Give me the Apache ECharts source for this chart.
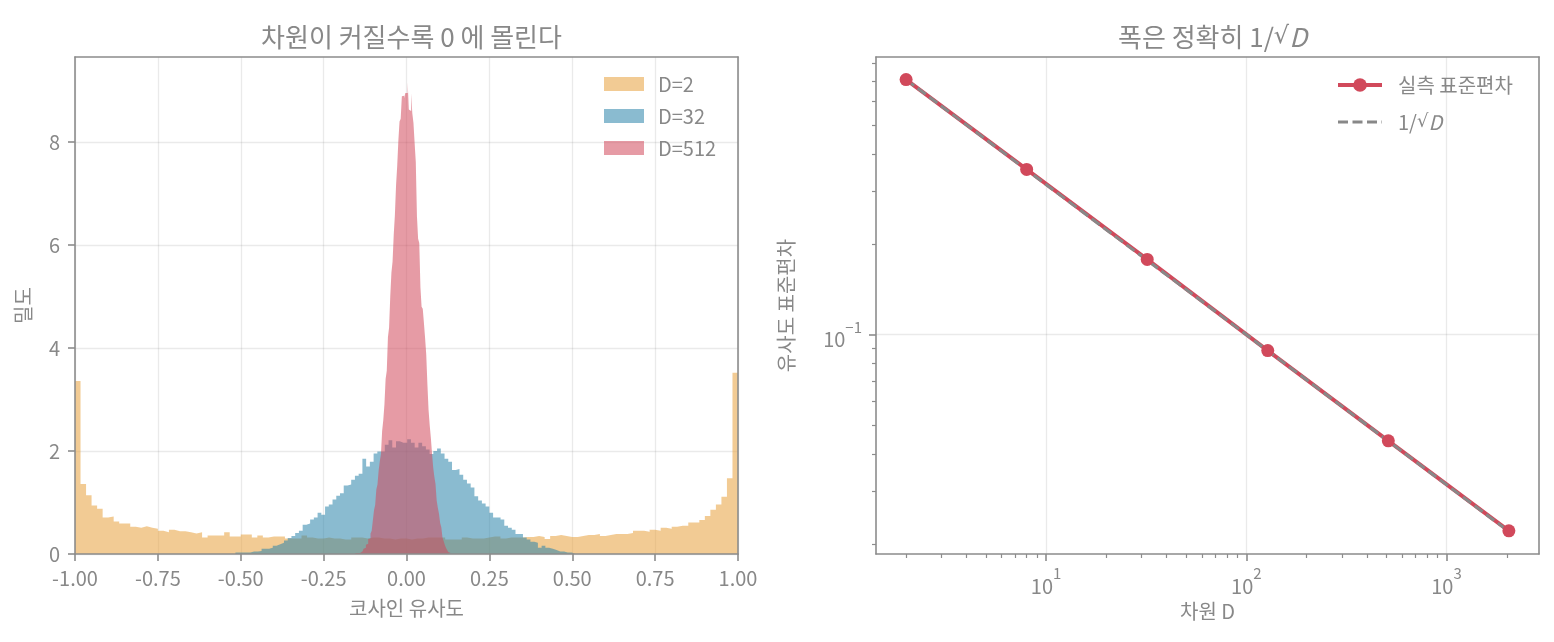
<!DOCTYPE html>
<html>
<head>
<meta charset="utf-8">
<script src="https://cdn.jsdelivr.net/npm/echarts@6/dist/echarts.min.js"></script>
<style>
  html, body { margin: 0; padding: 0; background: #fff; }
  #chart { width: 1554px; height: 642px; }
</style>
</head>
<body>
<div id="chart"></div>
<script>
// histogram densities (bin ranges + heights)
const d2Range = [-1, 1];
const d2Density = [
  3.36, 1.36, 1.14, 0.94, 0.88, 0.71, 0.73, 0.63, 0.59, 0.59,
  0.53, 0.51, 0.54, 0.51, 0.49, 0.45, 0.42, 0.47, 0.44, 0.44,
  0.42, 0.40, 0.42, 0.32, 0.36, 0.36, 0.36, 0.42, 0.34, 0.34,
  0.38, 0.38, 0.32, 0.36, 0.32, 0.34, 0.34, 0.34, 0.30, 0.30,
  0.30, 0.36, 0.32, 0.30, 0.30, 0.32, 0.30, 0.30, 0.28, 0.28,
  0.32, 0.32, 0.30, 0.32, 0.32, 0.30, 0.30, 0.28, 0.30, 0.30,
  0.28, 0.30, 0.30, 0.32, 0.32, 0.32, 0.32, 0.28, 0.28, 0.28,
  0.32, 0.30, 0.30, 0.30, 0.32, 0.34, 0.34, 0.30, 0.32, 0.32,
  0.32, 0.33, 0.33, 0.35, 0.33, 0.29, 0.35, 0.37, 0.35, 0.33,
  0.33, 0.35, 0.37, 0.37, 0.39, 0.35, 0.37, 0.39, 0.39, 0.39,
  0.41, 0.45, 0.45, 0.43, 0.47, 0.45, 0.51, 0.49, 0.53, 0.55,
  0.55, 0.61, 0.61, 0.66, 0.74, 0.86, 0.96, 1.11, 1.47, 3.52
];

const d32Range = [-0.516, 0.509];
const d32Density = [
  0.03, 0.03, 0.03, 0.03, 0.05, 0.05, 0.06, 0.10, 0.10, 0.12,
  0.16, 0.19, 0.22, 0.26, 0.31, 0.35, 0.41, 0.45, 0.57, 0.59,
  0.67, 0.71, 0.80, 0.76, 0.92, 0.96, 1.06, 1.13, 1.18, 1.33,
  1.35, 1.44, 1.52, 1.56, 1.85, 1.70, 1.79, 1.95, 1.99, 1.99,
  2.12, 2.21, 2.07, 2.19, 2.16, 2.16, 2.23, 2.16, 2.07, 2.16,
  2.09, 2.03, 1.94, 2.00, 2.05, 1.95, 1.85, 1.79, 1.63, 1.65,
  1.54, 1.44, 1.37, 1.29, 1.12, 1.04, 0.98, 0.92, 0.80, 0.71,
  0.71, 0.67, 0.55, 0.51, 0.47, 0.39, 0.39, 0.32, 0.28, 0.24,
  0.22, 0.12, 0.16, 0.12, 0.10, 0.08, 0.05, 0.05, 0.03, 0.03,
  0.01
];

const d512Range = [-0.154, 0.133];
const d512Density = [
  0.02, 0.02, 0.02, 0.02, 0.03, 0.05, 0.06, 0.10, 0.12, 0.18,
  0.20, 0.29, 0.30, 0.40, 0.45, 0.65, 0.85, 0.95, 1.25, 1.35,
  1.62, 1.80, 1.94, 2.39, 2.60, 2.91, 3.40, 3.56, 4.21, 4.40,
  5.00, 5.46, 5.68, 6.20, 6.58, 7.16, 7.54, 8.03, 8.40, 8.45,
  8.89, 8.90, 8.85, 8.95, 8.95, 9.16, 8.63, 8.60, 8.94, 8.56,
  8.37, 7.98, 7.61, 6.56, 6.12, 6.04, 5.18, 4.80, 4.76, 4.49,
  4.20, 3.88, 3.30, 2.80, 2.50, 2.25, 1.95, 1.68, 1.50, 1.36,
  1.04, 0.90, 0.78, 0.60, 0.52, 0.32, 0.25, 0.18, 0.12, 0.08,
  0.04, 0.02
];

// right panel
const dims = [2, 8, 32, 128, 512, 2048];
const measuredStd = [0.707, 0.355, 0.178, 0.0885, 0.0443, 0.0222];
const theoryStd = [0.7071, 0.3536, 0.1768, 0.0884, 0.0442, 0.0221];

// ticks
const densityTicks = [0, 2, 4, 6, 8];
const dimTicks = [10, 100, 1000];
const dimMinorTicks = [2, 3, 4, 5, 6, 7, 8, 9, 20, 30, 40, 50, 60, 70, 80, 90,
  200, 300, 400, 500, 600, 700, 800, 900, 2000];
const stdTicks = [0.1];
const stdMinorTicks = [0.02, 0.03, 0.04, 0.05, 0.06, 0.07, 0.08, 0.09,
  0.2, 0.3, 0.4, 0.5, 0.6, 0.7, 0.8];

const FONT = '"Noto Sans CJK KR", "Noto Sans", sans-serif';
const TEXT = '#888888';
const SPINE = '#8c8c8c';
const GRIDLINE = 'rgba(128,128,128,0.17)';
const ORANGE = 'rgba(231,160,60,0.55)';
const BLUE = 'rgba(42,131,170,0.55)';
const PINK = 'rgba(209,73,91,0.55)';
const RED = '#d1495b';
const GRAY = '#888888';

function stepData(range, dens) {
  const n = dens.length;
  const w = (range[1] - range[0]) / n;
  const pts = dens.map((h, i) => [range[0] + i * w, h]);
  pts.push([range[1], dens[n - 1]]);
  return pts;
}

function histSeries(name, range, dens, color) {
  return {
    name: name,
    type: 'line',
    xAxisIndex: 0,
    yAxisIndex: 0,
    step: 'end',
    data: stepData(range, dens),
    symbol: 'none',
    showSymbol: false,
    color: color,
    lineStyle: { width: 0, opacity: 0 },
    areaStyle: { color: color, opacity: 1 },
    silent: true
  };
}

function powLabel(v) {
  const e = Math.round(Math.log10(v));
  return '{b|10}{s|' + (e < 0 ? '\u2212' : '') + Math.abs(e) + '}';
}

const powRich = {
  b: { fontSize: 20, color: TEXT, fontFamily: FONT, lineHeight: 30, verticalAlign: 'bottom' },
  s: { fontSize: 15, color: TEXT, fontFamily: FONT, lineHeight: 16, verticalAlign: 'top' }
};

const axisLine = { show: true, onZero: false, lineStyle: { color: SPINE, width: 1.6 } };
const majorTick = { show: true, length: 7, lineStyle: { color: SPINE, width: 1.6 } };
const nameStyle = { color: TEXT, fontSize: 20, fontFamily: FONT };

const chart = echarts.init(document.getElementById('chart'));

chart.setOption({
  animation: false,
  backgroundColor: '#ffffff',
  textStyle: { fontFamily: FONT },
  title: [
    {
      text: '차원이 커질수록 0 에 몰린다',
      left: 406.5, top: 19, textAlign: 'center',
      textStyle: { fontSize: 26, fontWeight: 'normal', color: TEXT, fontFamily: FONT }
    },
    {
      text: '폭은 정확히 {n|1/}{r|√}{d|D}',
      left: 1207.5, top: 19, textAlign: 'center',
      textStyle: {
        fontSize: 26, fontWeight: 'normal', color: TEXT, fontFamily: FONT,
        rich: {
          n: { fontSize: 26, color: TEXT, fontFamily: FONT },
          r: { fontSize: 24, color: TEXT, fontFamily: '"DejaVu Sans", sans-serif' },
          d: { fontSize: 26, color: TEXT, fontFamily: FONT, fontStyle: 'italic' }
        }
      }
    }
  ],
  legend: [
    {
      orient: 'vertical', left: 599, top: 69,
      itemWidth: 40, itemHeight: 14, itemGap: 12,
      icon: 'rect',
      data: [
        { name: 'D=2', itemStyle: { color: ORANGE } },
        { name: 'D=32', itemStyle: { color: BLUE } },
        { name: 'D=512', itemStyle: { color: PINK } }
      ],
      textStyle: { color: TEXT, fontSize: 20, fontFamily: FONT, lineHeight: 20, padding: [0, 0, 0, 9] },
      selectedMode: false
    },
    {
      orient: 'vertical', left: 1331, top: 70,
      itemWidth: 44, itemHeight: 17, itemGap: 17,
      data: [
        { name: '실측 표준편차', lineStyle: { width: 4, color: RED }, itemStyle: { color: RED } },
        { name: '1/√D', lineStyle: { width: 3, color: GRAY, type: [10, 4.5] }, itemStyle: { opacity: 0 } }
      ],
      formatter: function (name) {
        return name === '1/√D' ? '{n|1/}{r|√}{d|D}' : '{n|' + name + '}';
      },
      textStyle: {
        color: TEXT, fontSize: 20, fontFamily: FONT, lineHeight: 20,
        rich: {
          n: { fontSize: 20, color: TEXT, fontFamily: FONT, padding: [0, 0, 0, 11] },
          r: { fontSize: 18, color: TEXT, fontFamily: '"DejaVu Sans", sans-serif' },
          d: { fontSize: 20, color: TEXT, fontFamily: FONT, fontStyle: 'italic' }
        }
      },
      selectedMode: false
    }
  ],
  grid: [
    { left: 75, top: 57, width: 663, height: 497 },
    { left: 876, top: 57, width: 663, height: 497 }
  ],
  xAxis: [
    {
      gridIndex: 0, type: 'value', min: -1, max: 1, interval: 0.25, z: 3,
      axisLine: axisLine, axisTick: majorTick,
      axisLabel: { color: TEXT, fontSize: 20, fontFamily: FONT, margin: 14,
        formatter: (v) => v.toFixed(2) },
      splitLine: { show: true, lineStyle: { color: GRIDLINE, width: 1.3 } },
      name: '코사인 유사도', nameLocation: 'middle', nameGap: 44, nameTextStyle: nameStyle
    },
    {
      gridIndex: 0, type: 'value', position: 'top', min: -1, max: 1, z: 3,
      axisLine: axisLine, axisTick: { show: false }, axisLabel: { show: false },
      splitLine: { show: false }
    },
    {
      gridIndex: 1, type: 'log', logBase: 10, min: 1.415, max: 2896, position: 'bottom',
      axisLine: axisLine,
      axisTick: Object.assign({ customValues: dimTicks }, majorTick),
      axisLabel: { customValues: dimTicks, margin: 12, formatter: powLabel, rich: powRich },
      splitLine: { show: true, lineStyle: { color: GRIDLINE, width: 1.3 } },
      name: '차원 D', nameLocation: 'middle', nameGap: 47, nameTextStyle: nameStyle
    },
    {
      gridIndex: 1, type: 'log', logBase: 10, min: 1.415, max: 2896, position: 'bottom',
      axisLine: { show: false },
      axisTick: { show: true, customValues: dimMinorTicks, length: 4, lineStyle: { color: SPINE, width: 1.2 } },
      axisLabel: { show: false }, splitLine: { show: false }
    },
    {
      gridIndex: 1, type: 'log', logBase: 10, min: 1.415, max: 2896, position: 'top',
      axisLine: axisLine, axisTick: { show: false }, axisLabel: { show: false },
      splitLine: { show: false }
    }
  ],
  yAxis: [
    {
      gridIndex: 0, type: 'value', min: 0, max: 9.65, interval: 2, z: 3,
      axisLine: axisLine,
      axisTick: Object.assign({ customValues: densityTicks }, majorTick),
      axisLabel: { customValues: densityTicks, color: TEXT, fontSize: 20, fontFamily: FONT, margin: 15 },
      splitLine: { show: true, lineStyle: { color: GRIDLINE, width: 1.3 } },
      name: '밀도', nameLocation: 'middle', nameGap: 42, nameTextStyle: nameStyle
    },
    {
      gridIndex: 0, type: 'value', position: 'right', min: 0, max: 9.65, z: 3,
      axisLine: axisLine, axisTick: { show: false }, axisLabel: { show: false },
      splitLine: { show: false }
    },
    {
      gridIndex: 1, type: 'log', logBase: 10, min: 0.01859, max: 0.8409, position: 'left',
      axisLine: axisLine,
      axisTick: Object.assign({ customValues: stdTicks }, majorTick),
      axisLabel: { customValues: stdTicks, margin: 14, formatter: powLabel, rich: powRich },
      splitLine: { show: true, lineStyle: { color: GRIDLINE, width: 1.3 } },
      name: '유사도 표준편차', nameLocation: 'middle', nameGap: 80, nameTextStyle: nameStyle
    },
    {
      gridIndex: 1, type: 'log', logBase: 10, min: 0.01859, max: 0.8409, position: 'left',
      axisLine: { show: false },
      axisTick: { show: true, customValues: stdMinorTicks, length: 4, lineStyle: { color: SPINE, width: 1.2 } },
      axisLabel: { show: false }, splitLine: { show: false }
    },
    {
      gridIndex: 1, type: 'log', logBase: 10, min: 0.01859, max: 0.8409, position: 'right',
      axisLine: axisLine, axisTick: { show: false }, axisLabel: { show: false },
      splitLine: { show: false }
    }
  ],
  series: [
    histSeries('D=2', d2Range, d2Density, ORANGE),
    histSeries('D=32', d32Range, d32Density, BLUE),
    histSeries('D=512', d512Range, d512Density, PINK),
    {
      name: '실측 표준편차',
      type: 'line',
      xAxisIndex: 2, yAxisIndex: 2,
      data: dims.map((d, i) => [d, measuredStd[i]]),
      symbol: 'circle', symbolSize: 13,
      color: RED,
      itemStyle: { color: RED },
      lineStyle: { color: RED, width: 4 }
    },
    {
      name: '1/√D',
      type: 'line',
      xAxisIndex: 2, yAxisIndex: 2,
      data: dims.map((d, i) => [d, theoryStd[i]]),
      symbol: 'none', showSymbol: false,
      color: GRAY,
      lineStyle: { color: GRAY, width: 3, type: [10, 4.5] }
    }
  ]
});
</script>
</body>
</html>
